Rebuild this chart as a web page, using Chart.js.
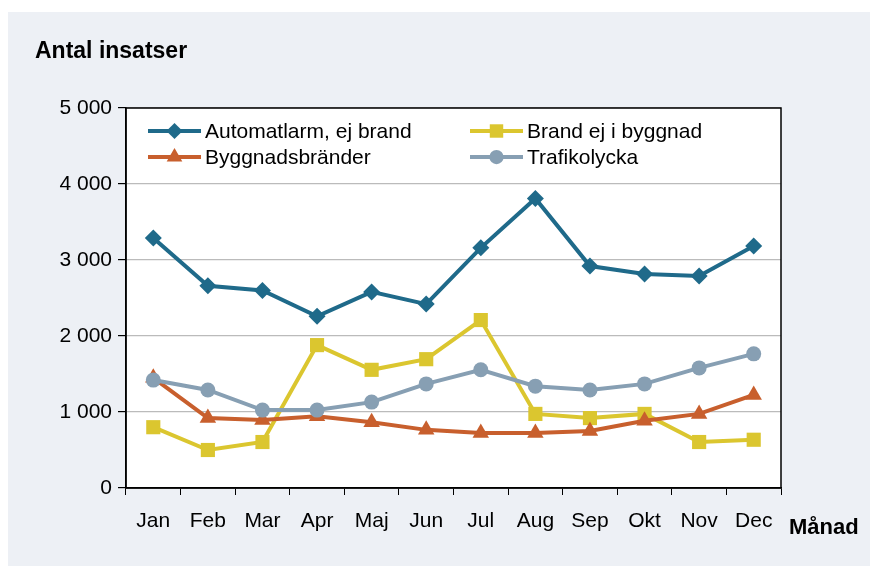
<!DOCTYPE html>
<html>
<head>
<meta charset="utf-8">
<script src="https://cdn.jsdelivr.net/npm/chart.js@4"></script>
<style>
    body { margin: 0; background: #fff; font-family: "Liberation Sans", Arial, sans-serif; }
    #panel { position: absolute; left: 8px; top: 12px; width: 862px; height: 554px; background: #edf0f5; }
    #wrap { position: absolute; left: 0; top: 0; width: 870px; height: 566px; }
    .lbl { position: absolute; font-weight: bold; color: #000; white-space: nowrap; }
</style>
</head>
<body>
<div id="panel"></div>
<div id="wrap"><canvas id="chart" width="870" height="566"></canvas></div>
<div class="lbl" style="left:35px; top:37px; font-size:23px;">Antal insatser</div>
<div class="lbl" style="left:789px; top:514px; font-size:22px;">Månad</div>
<script>
const months = ['Jan', 'Feb', 'Mar', 'Apr', 'Maj', 'Jun', 'Jul', 'Aug', 'Sep', 'Okt', 'Nov', 'Dec'];
const seriesNames = ['Automatlarm, ej brand', 'Brand ej i byggnad', 'Byggnadsbränder', 'Trafikolycka'];
const automatlarm = [3290, 2660, 2600, 2260, 2580, 2420, 3160, 3810, 2920, 2815, 2790, 3185];
const brandEjByggnad = [800, 500, 605, 1880, 1555, 1695, 2210, 975, 920, 975, 605, 635];
const byggnadsbrander = [1450, 920, 895, 945, 865, 765, 725, 725, 750, 885, 975, 1225];
const trafikolycka = [1420, 1290, 1025, 1025, 1130, 1370, 1555, 1340, 1290, 1370, 1580, 1765];
const yTicks = [0, 1000, 2000, 3000, 4000, 5000];

const colors = ['#1f6a8a', '#dbc62f', '#c85f2d', '#879fb3'];
const shapes = ['rectRot', 'rect', 'triangle', 'circle'];
const radii = [8.5, 10, 9.5, 7.5];
const seriesData = [automatlarm, brandEjByggnad, byggnadsbrander, trafikolycka];

const FONT = '"Liberation Sans", Arial, sans-serif';

function drawMarker(ctx, shape, x, y, r) {
    ctx.beginPath();
    if (shape === 'rectRot') {
        ctx.moveTo(x - r, y); ctx.lineTo(x, y - r); ctx.lineTo(x + r, y); ctx.lineTo(x, y + r);
    } else if (shape === 'rect') {
        const s = r * Math.SQRT1_2;
        ctx.rect(x - s, y - s, 2 * s, 2 * s);
    } else if (shape === 'triangle') {
        ctx.moveTo(x, y - r);
        ctx.lineTo(x + r * 0.866, y + r * 0.5);
        ctx.lineTo(x - r * 0.866, y + r * 0.5);
    } else {
        ctx.arc(x, y, r, 0, Math.PI * 2);
    }
    ctx.closePath();
    ctx.fill();
}

const frame = {
    id: 'frame',
    beforeDraw(chart) {
        const { ctx, chartArea: a } = chart;
        ctx.save();
        ctx.fillStyle = '#fff';
        ctx.fillRect(a.left, a.top, a.right - a.left, a.bottom - a.top);
        ctx.restore();
    },
    afterDatasetsDraw(chart) {
        const { ctx, chartArea: a } = chart;
        ctx.save();
        ctx.strokeStyle = '#000';
        ctx.lineWidth = 1.5;
        ctx.strokeRect(a.left, a.top, a.right - a.left, a.bottom - a.top);
        // legend inside the plot, two columns
        const cols = [148, 470];
        const rows = [131, 157];
        ctx.font = '21px ' + FONT;
        ctx.textBaseline = 'middle';
        seriesNames.forEach((name, i) => {
            const x = cols[i % 2], y = rows[Math.floor(i / 2)];
            ctx.strokeStyle = colors[i];
            ctx.fillStyle = colors[i];
            ctx.lineWidth = 4;
            ctx.beginPath();
            ctx.moveTo(x, y); ctx.lineTo(x + 53, y);
            ctx.stroke();
            drawMarker(ctx, shapes[i], x + 26.5, y, radii[i] * 0.95);
            ctx.fillStyle = '#000';
            ctx.fillText(name, x + 57, y + 1);
        });
        ctx.restore();
    }
};

new Chart(document.getElementById('chart'), {
    type: 'line',
    data: {
        labels: months,
        datasets: seriesNames.map((name, i) => ({
            label: name,
            data: seriesData[i],
            borderColor: colors[i],
            backgroundColor: colors[i],
            borderWidth: 4,
            pointStyle: shapes[i],
            pointRadius: radii[i],
            pointBorderWidth: 0,
            pointBackgroundColor: colors[i],
            tension: 0,
            order: 4 - i
        }))
    },
    options: {
        responsive: false,
        animation: false,
        layout: { padding: { top: 108, right: 89, left: 0, bottom: 0 } },
        plugins: {
            legend: { display: false },
            tooltip: { enabled: false }
        },
        scales: {
            x: {
                offset: true,
                afterFit: s => { s.height = 78; },
                grid: { offset: true, drawOnChartArea: false, drawTicks: true, tickLength: 7, tickColor: '#000', color: '#000' },
                border: { display: true, color: '#000', width: 1.5 },
                ticks: { color: '#000', font: { family: FONT, size: 21 }, padding: 14, maxRotation: 0 }
            },
            y: {
                min: 0,
                max: 5000,
                afterFit: s => { s.width = 126; },
                afterBuildTicks: s => { s.ticks = yTicks.map(v => ({ value: v })); },
                grid: { color: '#bbbbbb', lineWidth: 1.2, tickLength: 8, tickColor: '#000' },
                border: { display: true, color: '#000', width: 1.5 },
                ticks: {
                    color: '#000',
                    font: { family: FONT, size: 21 },
                    padding: 6,
                    callback: v => v === 0 ? '0' : (v / 1000) + ' 000'
                }
            }
        }
    },
    plugins: [frame]
});
</script>
</body>
</html>
